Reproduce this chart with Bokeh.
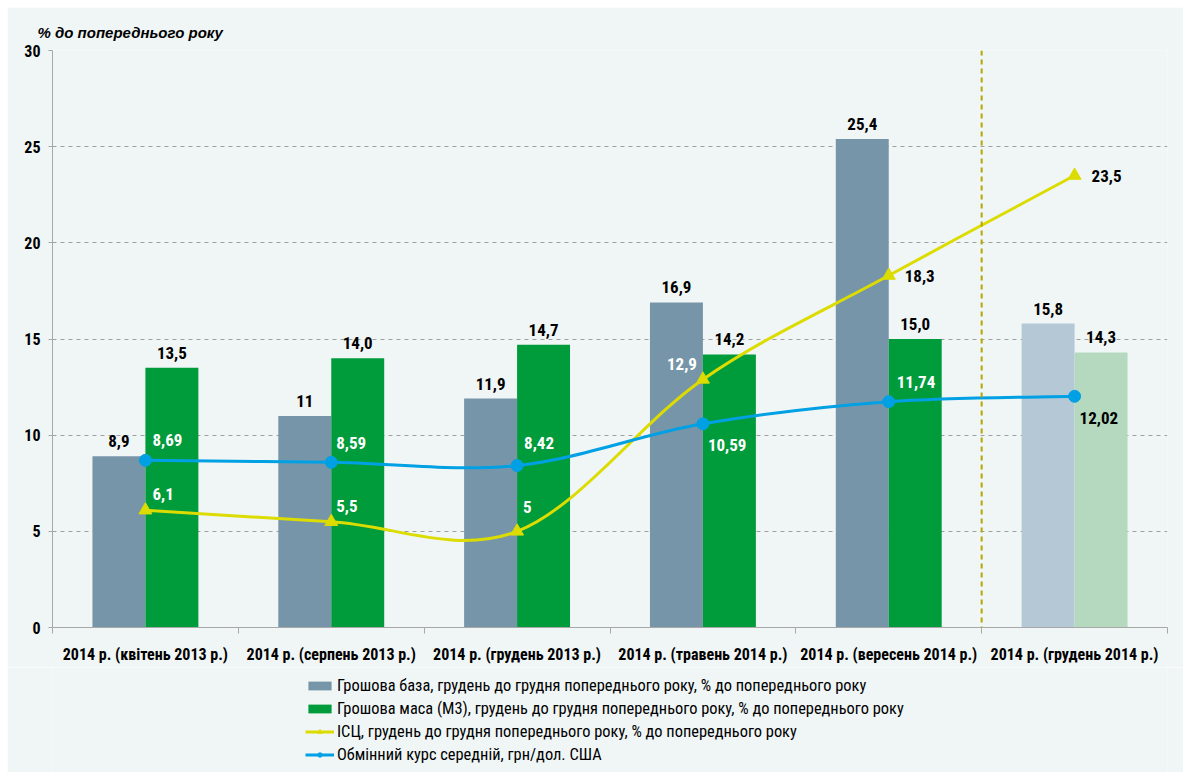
from bokeh.plotting import figure
from bokeh.layouts import column
from bokeh.models import FixedTicker, Span, Legend, LegendItem, ColumnDataSource
from bokeh.core.properties import value
from bokeh.embed import file_html
from bokeh.resources import INLINE

categories = ["2014 р. (квітень 2013 р.)", "2014 р. (серпень 2013 р.)", "2014 р. (грудень 2013 р.)",
              "2014 р. (травень 2014 р.)", "2014 р. (вересень 2014 р.)", "2014 р. (грудень 2014 р.)"]
money_base = [8.9, 11, 11.9, 16.9, 25.4, 15.8]
money_m3 = [13.5, 14.0, 14.7, 14.2, 15.0, 14.3]
cpi = [6.1, 5.5, 5, 12.9, 18.3, 23.5]
fx_rate = [8.69, 8.59, 8.42, 10.59, 11.74, 12.02]
y_ticks = [0, 5, 10, 15, 20, 25, 30]

names = ["Грошова база, грудень до грудня попереднього року, % до попереднього року",
         "Грошова маса (М3), грудень до грудня попереднього року, % до попереднього року",
         "ІСЦ, грудень до грудня попереднього року, % до попереднього року",
         "Обмінний курс середній, грн/дол. США"]

FONT = "Roboto Condensed, Arial Narrow, DejaVu Sans Condensed, Liberation Sans"
BG = "#F0F6F6"
C_BASE, C_BASE_L = "#7795A8", "#B5C8D6"
C_M3, C_M3_L = "#009B3B", "#B4D9BE"
C_CPI = "#DCDC00"
C_FX = "#00A0E4"

n = len(categories)
xc = [i + 0.5 for i in range(n)]
BW = 0.285

p = figure(width=1176, height=660, output_backend="svg", toolbar_location=None,
           x_range=(0, n), y_range=(0, 30), background_fill_color=BG, border_fill_color=BG,
           min_border_left=45, min_border_right=16, min_border_top=43, min_border_bottom=40)
p.outline_line_color = None

# title
p.title.text = "% до попереднього року"
p.title.text_font = "Liberation Sans"
p.title.text_font_style = "bold italic"
p.title.text_font_size = "15px"
p.title.text_color = "#000000"
p.title.offset = -15
p.title.standoff = 20

# axes
p.xaxis.ticker = FixedTicker(ticks=xc, minor_ticks=list(range(n + 1)))
p.xaxis.major_label_overrides = {x: c for x, c in zip(xc, categories)}
p.xaxis.major_tick_line_color = None
p.xaxis.minor_tick_in = 0
p.xaxis.minor_tick_out = 6
p.xaxis.minor_tick_line_color = "#A8A8A8"
p.xaxis.axis_line_color = "#A8A8A8"
p.xaxis.major_label_standoff = 11
p.xaxis.major_label_text_font = FONT
p.xaxis.major_label_text_font_style = "bold"
p.xaxis.major_label_text_font_size = "16px"
p.xaxis.major_label_text_color = "#000000"

p.yaxis.ticker = FixedTicker(ticks=y_ticks, minor_ticks=[])
p.yaxis.axis_line_color = "#A8A8A8"
p.yaxis.major_tick_line_color = "#A8A8A8"
p.yaxis.major_tick_in = 0
p.yaxis.major_tick_out = 4
p.yaxis.major_label_standoff = 8
p.yaxis.major_label_text_font = FONT
p.yaxis.major_label_text_font_style = "bold"
p.yaxis.major_label_text_font_size = "16px"
p.yaxis.major_label_text_color = "#000000"

p.xgrid.grid_line_color = None
p.ygrid.grid_line_color = "#A0A0A0"
p.ygrid.grid_line_dash = "4 4"
p.ygrid.grid_line_width = 1

# separator
p.add_layout(Span(location=5, dimension="height", line_color="#B8A600", line_width=2, line_dash="5 4"))

# bars
xb = [x - BW / 2 for x in xc]
xm = [x + BW / 2 for x in xc]
p.vbar(x=xb[:5], top=money_base[:5], width=BW, fill_color=C_BASE, line_color=None)
p.vbar(x=xb[5:], top=money_base[5:], width=BW, fill_color=C_BASE_L, line_color=None)
p.vbar(x=xm[:5], top=money_m3[:5], width=BW, fill_color=C_M3, line_color=None)
p.vbar(x=xm[5:], top=money_m3[5:], width=BW, fill_color=C_M3_L, line_color=None)

def fmt(v, d=None):
    s = format(v, "g") if d is None else f"{v:.{d}f}"
    return s.replace(".", ",")

LBL = dict(text_font=value(FONT), text_font_style="bold", text_font_size="17px")
p.text(x=xb, y=money_base, text=[fmt(v) for v in money_base], text_align="center", text_baseline="bottom",
       y_offset=-9, text_color="#000000", **LBL)
p.text(x=xm, y=money_m3, text=[fmt(v, 1) for v in money_m3], text_align="center", text_baseline="bottom",
       y_offset=-9, text_color="#000000", **LBL)

# smooth curves (Catmull-Rom -> cubic Bezier)
def bez(xs, ys):
    m = len(xs)
    out = dict(x0=[], y0=[], x1=[], y1=[], cx0=[], cy0=[], cx1=[], cy1=[])
    for i in range(m - 1):
        i0, i3 = max(i - 1, 0), min(i + 2, m - 1)
        out["x0"].append(xs[i]); out["y0"].append(ys[i])
        out["x1"].append(xs[i + 1]); out["y1"].append(ys[i + 1])
        out["cx0"].append(xs[i] + (xs[i + 1] - xs[i0]) / 6)
        out["cy0"].append(ys[i] + (ys[i + 1] - ys[i0]) / 6)
        out["cx1"].append(xs[i + 1] - (xs[i3] - xs[i]) / 6)
        out["cy1"].append(ys[i + 1] - (ys[i3] - ys[i]) / 6)
    return out

p.bezier(source=ColumnDataSource(bez(xc, cpi)), x0="x0", y0="y0", x1="x1", y1="y1",
         cx0="cx0", cy0="cy0", cx1="cx1", cy1="cy1", line_color=C_CPI, line_width=3)
p.scatter(xc, cpi, marker="triangle", size=13, fill_color=C_CPI, line_color=C_CPI)
p.bezier(source=ColumnDataSource(bez(xc, fx_rate)), x0="x0", y0="y0", x1="x1", y1="y1",
         cx0="cx0", cy0="cy0", cx1="cx1", cy1="cy1", line_color=C_FX, line_width=3)
p.scatter(xc, fx_rate, marker="circle", size=12, fill_color=C_FX, line_color=C_FX)

# line labels (offsets in px, style only)
cpi_dx = [7, 5, 6, -6, 16, 17]
cpi_dy = [-16, -16, -24, -15, 0, 0]
cpi_al = ["left", "left", "left", "right", "left", "left"]
cpi_col = ["white", "white", "white", "white", "black", "black"]
fx_dx = [7, 5, 7, 5, 8, 5]
fx_dy = [-20, -19, -23, 21, -20, 22]
fx_col = ["white", "white", "white", "white", "white", "black"]

p.text(x=xc, y=cpi, text=[fmt(v) for v in cpi], x_offset=cpi_dx, y_offset=cpi_dy, text_align=cpi_al,
       text_baseline="middle", text_color=cpi_col, **LBL)
p.text(x=xc, y=fx_rate, text=[fmt(v, 2) for v in fx_rate], x_offset=fx_dx, y_offset=fx_dy, text_align="left",
       text_baseline="middle", text_color=fx_col, **LBL)

# legend panel (separate strip below the chart); legend-only glyphs sit outside the visible range
q = figure(width=1176, height=105, output_backend="svg", toolbar_location=None,
           x_range=(0, 1), y_range=(0, 1), background_fill_color=BG, border_fill_color=BG,
           x_axis_location=None, y_axis_location=None,
           min_border_left=0, min_border_right=0, min_border_top=0, min_border_bottom=0)
q.outline_line_color = None
q.grid.visible = False
e = ColumnDataSource(dict(x=[-10, -11], y=[-10, -11]))
l_base = q.vbar(x="x", top="y", width=1, source=e, fill_color=C_BASE, line_color=None)
l_m3 = q.vbar(x="x", top="y", width=1, source=e, fill_color=C_M3, line_color=None)
l_cpi_l = q.line(x="x", y="y", source=e, line_color=C_CPI, line_width=3)
l_cpi_m = q.scatter(x="x", y="y", source=e, marker="triangle", size=10, fill_color=C_CPI, line_color=C_CPI)
l_fx_l = q.line(x="x", y="y", source=e, line_color=C_FX, line_width=3)
l_fx_m = q.scatter(x="x", y="y", source=e, marker="circle", size=9, fill_color=C_FX, line_color=C_FX)

legend = Legend(items=[LegendItem(label=names[0], renderers=[l_base]),
                       LegendItem(label=names[1], renderers=[l_m3]),
                       LegendItem(label=names[2], renderers=[l_cpi_l, l_cpi_m]),
                       LegendItem(label=names[3], renderers=[l_fx_l, l_fx_m])],
                location=(253, 8), orientation="vertical", background_fill_alpha=0, border_line_color=None,
                label_text_font=FONT, label_text_font_size="16.4px", label_text_color="#000000",
                glyph_width=29, glyph_height=11, label_height=19, label_standoff=3, spacing=4,
                padding=0, margin=0)
q.add_layout(legend, "center")

layout = column(p, q, spacing=0, styles={"margin-left": "7px", "margin-top": "7px"})
open("out.html", "w").write(file_html(layout, INLINE))
